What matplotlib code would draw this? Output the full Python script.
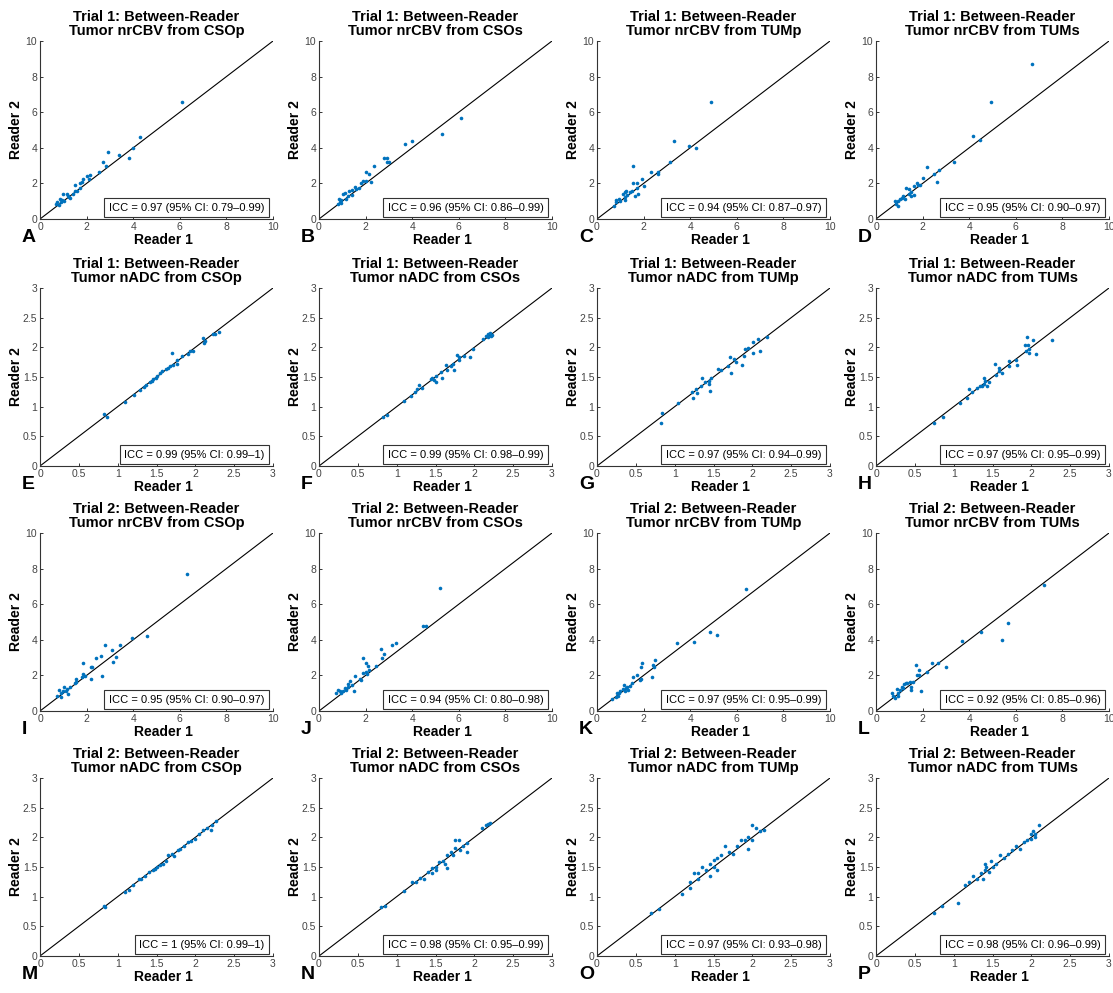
import matplotlib
matplotlib.use('Agg')
import matplotlib.pyplot as plt

plt.rcParams['font.family'] = ['Liberation Sans', 'DejaVu Sans']

# ---- data (Reader 1 = x, Reader 2 = y) ----
a_x = [6.1, 4.3, 4.0, 3.8, 3.4, 2.9, 2.7, 2.85, 2.55, 2.15, 2.0, 2.1, 1.85, 1.8, 1.7, 1.5, 1.7, 1.5, 1.4, 1.15, 1.0, 1.25, 1.3, 0.85, 0.75, 0.9, 0.7, 0.8, 1.05, 1.6, 1.2, 0.95]
a_y = [6.6, 4.6, 4.0, 3.45, 3.6, 3.75, 3.2, 2.95, 2.65, 2.5, 2.4, 2.25, 2.25, 2.1, 2.0, 1.9, 1.75, 1.6, 1.4, 1.4, 1.4, 1.25, 1.2, 1.15, 0.95, 0.95, 0.85, 0.8, 1.0, 1.55, 1.3, 1.05]

b_x = [6.1, 5.3, 4.0, 3.7, 2.9, 2.8, 2.9, 3.0, 2.35, 2.0, 2.15, 2.25, 1.9, 2.0, 1.8, 1.55, 1.6, 1.4, 1.3, 1.1, 1.05, 1.25, 1.4, 0.85, 0.9, 0.95, 0.95, 0.8, 1.15, 1.7]
b_y = [5.7, 4.8, 4.4, 4.2, 3.45, 3.45, 3.2, 3.2, 3.0, 2.65, 2.55, 2.1, 2.15, 2.15, 2.05, 1.8, 1.7, 1.65, 1.55, 1.45, 1.4, 1.3, 1.35, 1.1, 0.95, 1.05, 0.9, 0.85, 1.15, 1.75]

c_x = [4.9, 3.3, 3.95, 4.25, 3.15, 2.6, 2.6, 2.3, 1.55, 1.95, 2.0, 1.55, 1.7, 1.7, 1.75, 1.65, 1.25, 1.2, 1.4, 1.1, 1.2, 1.2, 0.95, 0.8, 0.8, 0.75, 1.0, 1.3, 1.5]
c_y = [6.55, 4.4, 4.1, 4.0, 3.2, 2.65, 2.55, 2.65, 2.95, 2.25, 1.85, 2.0, 2.0, 1.75, 1.4, 1.3, 1.6, 1.5, 1.5, 1.4, 1.25, 1.05, 1.1, 1.05, 0.95, 0.75, 1.0, 1.35, 1.55]

d_x = [6.7, 4.95, 4.15, 4.45, 3.35, 2.7, 2.5, 2.2, 2.6, 2.0, 1.75, 1.8, 1.9, 1.65, 1.3, 1.4, 1.5, 1.65, 1.5, 1.15, 1.1, 1.25, 0.95, 0.8, 0.85, 0.95, 1.05, 1.4]
d_y = [8.7, 6.55, 4.65, 4.45, 3.2, 2.75, 2.55, 2.9, 2.1, 2.3, 2.0, 1.9, 1.9, 1.85, 1.75, 1.7, 1.5, 1.35, 1.3, 1.3, 1.2, 1.15, 1.0, 1.0, 0.85, 0.75, 1.1, 1.4]

e_x = [2.3, 2.23, 2.1, 2.13, 2.11, 1.97, 1.93, 1.91, 1.83, 1.77, 1.76, 1.7, 1.71, 1.68, 1.65, 1.57, 1.54, 1.5, 1.46, 1.44, 1.41, 1.37, 1.34, 1.29, 1.21, 1.09, 0.82, 0.86, 1.62, 2.25, 1.49]
e_y = [2.26, 2.22, 2.15, 2.11, 2.08, 1.94, 1.94, 1.89, 1.85, 1.72, 1.78, 1.9, 1.71, 1.69, 1.66, 1.6, 1.56, 1.51, 1.47, 1.44, 1.41, 1.36, 1.33, 1.28, 1.2, 1.08, 0.87, 0.82, 1.63, 2.23, 1.48]

f_x = [2.23, 2.18, 2.15, 2.2, 2.22, 2.11, 1.98, 1.94, 1.87, 1.8, 1.78, 1.8, 1.72, 1.7, 1.64, 1.65, 1.74, 1.57, 1.58, 1.5, 1.46, 1.48, 1.5, 1.44, 1.29, 1.33, 1.26, 1.23, 1.19, 1.1, 0.87, 0.82, 2.17]
f_y = [2.21, 2.23, 2.19, 2.24, 2.19, 2.14, 1.97, 1.83, 1.86, 1.84, 1.87, 1.78, 1.72, 1.69, 1.7, 1.61, 1.62, 1.59, 1.48, 1.52, 1.49, 1.45, 1.41, 1.47, 1.36, 1.32, 1.29, 1.25, 1.18, 1.09, 0.86, 0.82, 2.17]

g_x = [2.19, 2.07, 2.01, 2.1, 2.01, 1.94, 1.9, 1.89, 1.87, 1.71, 1.77, 1.79, 1.69, 1.73, 1.6, 1.56, 1.47, 1.44, 1.44, 1.45, 1.35, 1.39, 1.34, 1.27, 1.29, 1.22, 1.24, 1.04, 0.84, 0.83]
g_y = [2.17, 2.14, 2.09, 1.94, 1.91, 1.99, 1.97, 1.85, 1.7, 1.84, 1.8, 1.76, 1.69, 1.57, 1.61, 1.64, 1.48, 1.44, 1.38, 1.27, 1.49, 1.41, 1.35, 1.3, 1.23, 1.25, 1.14, 1.06, 0.89, 0.73]

h_x = [2.26, 1.95, 2.02, 1.96, 1.92, 1.97, 1.93, 1.97, 2.06, 1.8, 1.81, 1.71, 1.71, 1.53, 1.59, 1.59, 1.62, 1.54, 1.39, 1.4, 1.39, 1.46, 1.43, 1.37, 1.34, 1.3, 1.2, 1.17, 1.24, 1.08, 0.86, 0.75]
h_y = [2.13, 2.17, 2.12, 2.04, 2.04, 1.98, 1.94, 1.9, 1.88, 1.79, 1.7, 1.77, 1.68, 1.72, 1.65, 1.6, 1.57, 1.53, 1.49, 1.43, 1.39, 1.42, 1.35, 1.34, 1.35, 1.32, 1.3, 1.14, 1.25, 1.06, 0.83, 0.72]

i_x = [6.3, 4.6, 3.95, 3.45, 2.8, 3.1, 3.25, 3.15, 2.6, 2.4, 2.2, 2.25, 1.85, 2.65, 2.2, 1.95, 1.85, 1.8, 1.55, 1.55, 1.5, 1.3, 1.05, 1.15, 1.0, 0.8, 0.9, 1.2, 0.75, 0.9, 1.1]
i_y = [7.7, 4.2, 4.1, 3.7, 3.7, 3.4, 3.05, 2.75, 3.1, 3.0, 2.5, 2.45, 2.7, 1.95, 1.8, 1.95, 2.1, 1.9, 1.8, 1.65, 1.55, 1.35, 1.35, 1.25, 1.15, 1.2, 1.0, 0.95, 0.85, 0.8, 1.1]

j_x = [5.2, 4.45, 4.6, 3.3, 3.15, 2.65, 2.8, 2.7, 1.9, 2.0, 2.1, 2.45, 2.15, 2.0, 1.9, 2.05, 1.75, 1.8, 1.55, 1.5, 1.35, 1.25, 1.25, 1.1, 1.15, 1.05, 0.8, 0.9, 0.95, 0.75, 1.4]
j_y = [6.9, 4.8, 4.8, 3.8, 3.7, 3.5, 3.2, 3.0, 3.0, 2.7, 2.55, 2.55, 2.3, 2.2, 2.15, 2.1, 1.8, 1.75, 1.95, 1.15, 1.7, 1.5, 1.35, 1.3, 1.2, 1.15, 1.2, 1.1, 1.0, 1.0, 1.45]

k_x = [6.4, 4.85, 5.15, 3.45, 4.15, 2.5, 2.4, 2.45, 1.95, 1.9, 2.35, 1.9, 1.85, 1.7, 1.55, 1.5, 1.4, 1.3, 1.15, 1.1, 1.0, 0.85, 0.9, 0.8, 0.65, 1.2, 1.35, 0.95, 1.25]
k_y = [6.85, 4.45, 4.25, 3.8, 3.9, 2.85, 2.6, 2.5, 2.7, 2.5, 1.9, 1.8, 1.75, 2.05, 1.9, 1.6, 1.4, 1.35, 1.45, 1.25, 1.1, 1.0, 0.85, 0.8, 0.7, 1.1, 1.2, 1.0, 1.3]

l_x = [7.2, 5.65, 5.4, 4.5, 3.7, 3.0, 2.65, 2.4, 1.7, 1.85, 2.2, 1.75, 1.85, 1.95, 1.6, 1.45, 1.5, 1.5, 1.3, 1.2, 1.1, 1.05, 0.95, 0.9, 0.7, 0.75, 0.8, 0.95, 1.35, 1.15]
l_y = [7.1, 4.95, 4.0, 4.45, 3.95, 2.5, 2.7, 2.7, 2.6, 2.3, 2.2, 2.0, 2.0, 1.1, 1.65, 1.65, 1.35, 1.2, 1.6, 1.5, 1.35, 1.2, 1.0, 1.25, 1.0, 0.85, 0.75, 0.85, 1.55, 1.3]

m_x = [0.82, 0.84, 1.1, 1.2, 1.28, 1.35, 1.4, 1.45, 1.5, 1.55, 1.58, 1.65, 1.7, 1.72, 1.78, 1.8, 1.85, 1.9, 1.95, 2.0, 2.1, 2.15, 2.2, 2.22, 2.27, 1.62, 1.3, 2.05, 1.15, 1.48]
m_y = [0.85, 0.83, 1.08, 1.2, 1.3, 1.35, 1.42, 1.45, 1.5, 1.53, 1.55, 1.7, 1.72, 1.68, 1.78, 1.8, 1.85, 1.92, 1.93, 1.98, 2.12, 2.15, 2.13, 2.2, 2.28, 1.6, 1.3, 2.05, 1.12, 1.46]

n_x = [0.8, 0.85, 1.1, 1.2, 1.25, 1.3, 1.35, 1.4, 1.45, 1.5, 1.5, 1.55, 1.6, 1.62, 1.65, 1.65, 1.7, 1.72, 1.75, 1.8, 1.82, 1.85, 1.9, 1.9, 1.75, 2.1, 2.15, 2.2, 2.18, 1.45]
n_y = [0.83, 0.85, 1.1, 1.25, 1.25, 1.32, 1.3, 1.42, 1.48, 1.5, 1.45, 1.58, 1.6, 1.55, 1.7, 1.48, 1.75, 1.7, 1.95, 1.95, 1.78, 1.85, 1.75, 1.9, 1.82, 2.15, 2.2, 2.25, 2.22, 1.4]

o_x = [0.7, 0.8, 1.1, 1.2, 1.25, 1.3, 1.3, 1.35, 1.4, 1.45, 1.5, 1.5, 1.55, 1.55, 1.6, 1.65, 1.7, 1.75, 1.8, 1.85, 1.9, 1.95, 1.95, 2.0, 2.05, 2.0, 2.1, 2.15, 1.45, 1.2]
o_y = [0.72, 0.8, 1.05, 1.25, 1.4, 1.3, 1.4, 1.5, 1.45, 1.35, 1.5, 1.62, 1.65, 1.45, 1.7, 1.85, 1.75, 1.72, 1.85, 1.95, 1.95, 2.0, 1.8, 2.2, 2.15, 1.95, 2.1, 2.12, 1.55, 1.15]

p_x = [0.75, 0.85, 1.05, 1.15, 1.2, 1.25, 1.3, 1.35, 1.4, 1.4, 1.42, 1.45, 1.48, 1.5, 1.6, 1.65, 1.7, 1.75, 1.8, 1.85, 1.9, 1.95, 2.0, 2.02, 2.05, 2.1, 2.0, 1.38, 1.55, 2.05]
p_y = [0.73, 0.85, 0.9, 1.2, 1.25, 1.35, 1.3, 1.4, 1.45, 1.55, 1.5, 1.42, 1.6, 1.5, 1.7, 1.65, 1.72, 1.78, 1.85, 1.8, 1.92, 1.95, 2.05, 2.1, 2.05, 2.2, 1.98, 1.3, 1.55, 2.0]

trials = ['1', '1', '2', '2']
metrics = ['nrCBV', 'nADC', 'nrCBV', 'nADC']
rois = ['CSOp', 'CSOs', 'TUMp', 'TUMs']
letters = 'ABCDEFGHIJKLMNOP'

icc_text = [
    'ICC = 0.97 (95% CI: 0.79–0.99)', 'ICC = 0.96 (95% CI: 0.86–0.99)',
    'ICC = 0.94 (95% CI: 0.87–0.97)', 'ICC = 0.95 (95% CI: 0.90–0.97)',
    'ICC = 0.99 (95% CI: 0.99–1)', 'ICC = 0.99 (95% CI: 0.98–0.99)',
    'ICC = 0.97 (95% CI: 0.94–0.99)', 'ICC = 0.97 (95% CI: 0.95–0.99)',
    'ICC = 0.95 (95% CI: 0.90–0.97)', 'ICC = 0.94 (95% CI: 0.80–0.98)',
    'ICC = 0.97 (95% CI: 0.95–0.99)', 'ICC = 0.92 (95% CI: 0.85–0.96)',
    'ICC = 1 (95% CI: 0.99–1)', 'ICC = 0.98 (95% CI: 0.95–0.99)',
    'ICC = 0.97 (95% CI: 0.93–0.98)', 'ICC = 0.98 (95% CI: 0.96–0.99)',
]

xs = [a_x, b_x, c_x, d_x, e_x, f_x, g_x, h_x, i_x, j_x, k_x, l_x, m_x, n_x, o_x, p_x]
ys = [a_y, b_y, c_y, d_y, e_y, f_y, g_y, h_y, i_y, j_y, k_y, l_y, m_y, n_y, o_y, p_y]

W, H = 1113, 993
fig = plt.figure(figsize=(W / 100, H / 100), dpi=100)

col_left = [40, 319, 597, 876]
row_top = [41, 288, 533, 778]
aw, ah = 233, 178

for i in range(16):
    r, c = divmod(i, 4)
    ax = fig.add_axes([col_left[c] / W, 1 - (row_top[r] + ah) / H, aw / W, ah / H])
    lim = 10 if metrics[r] == 'nrCBV' else 3
    ax.plot([0, lim], [0, lim], color='k', lw=0.8, zorder=1)
    ax.plot(xs[i], ys[i], 'o', ms=2.6, mew=0, color='#0072BD', zorder=2)
    ax.set_xlim(0, lim)
    ax.set_ylim(0, lim)
    if lim == 10:
        ticks = [0, 2, 4, 6, 8, 10]
        labs = ['0', '2', '4', '6', '8', '10']
    else:
        ticks = [0, 0.5, 1, 1.5, 2, 2.5, 3]
        labs = ['0', '0.5', '1', '1.5', '2', '2.5', '3']
    ax.set_xticks(ticks, labs)
    ax.set_yticks(ticks, labs)
    for s in ['top', 'right']:
        ax.spines[s].set_visible(False)
    for s in ['left', 'bottom']:
        ax.spines[s].set_color('#333333')
        ax.spines[s].set_linewidth(0.8)
    ax.tick_params(direction='in', length=2.5, width=0.7, colors='#333333',
                   labelcolor='#444444', labelsize=7.5, pad=2)
    ax.set_title('Trial %s: Between-Reader\nTumor %s from %s' % (trials[r], metrics[r], rois[c]),
                 fontsize=10.5, fontweight='bold', pad=4, linespacing=1.05)
    ax.set_xlabel('Reader 1', fontsize=10, fontweight='bold')
    ax.set_ylabel('Reader 2', fontsize=10, fontweight='bold')
    ax.xaxis.set_label_coords(0.53, -0.078)
    ax.yaxis.set_label_coords(-0.075, 0.5)
    ax.text(0.964, 0.035, icc_text[i], transform=ax.transAxes, ha='right', va='bottom',
            fontsize=8, bbox=dict(boxstyle='square,pad=0.42', fc='white', ec='#333333', lw=0.8))
    fig.text((col_left[c] - 18) / W, 1 - (row_top[r] + ah + 23) / H, letters[i],
             fontsize=14, fontweight='bold', ha='left', va='baseline')

fig.savefig('out.png', dpi=100)
